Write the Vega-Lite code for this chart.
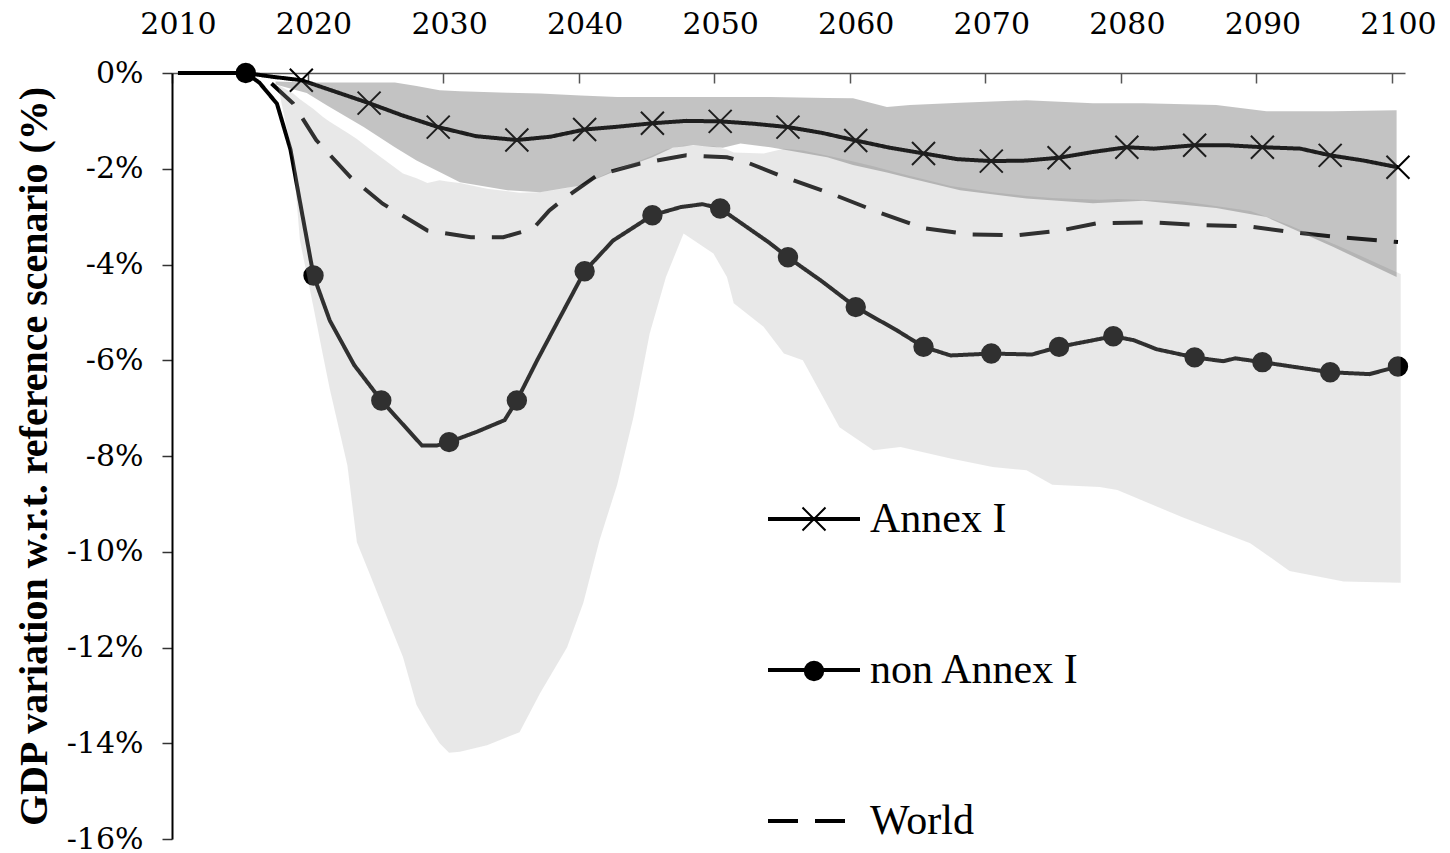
{
  "$schema": "https://vega.github.io/schema/vega-lite/v6.json",
  "width": 1233,
  "height": 766,
  "autosize": {"type": "none"},
  "padding": {"left": 172, "top": 73, "right": 45, "bottom": 14},
  "background": "white",
  "config": {
    "view": {"stroke": null},
    "axis": {"labelFont": "DejaVu Serif", "labelFontSize": 30, "labelColor": "black", "grid": false},
    "legend": {"labelFont": "Liberation Serif", "labelFontSize": 42, "labelColor": "black", "labelLimit": 500}
  },
  "datasets": {
    "lines": [
      {"s": "Annex I", "yr": 2010, "v": 0, "m": 0},
      {"s": "Annex I", "yr": 2015, "v": 0, "m": 0},
      {"s": "Annex I", "yr": 2017, "v": -0.08, "m": 0},
      {"s": "Annex I", "yr": 2019.1, "v": -0.15, "m": 1},
      {"s": "Annex I", "yr": 2021.5, "v": -0.38, "m": 0},
      {"s": "Annex I", "yr": 2024.1, "v": -0.63, "m": 1},
      {"s": "Annex I", "yr": 2026.5, "v": -0.88, "m": 0},
      {"s": "Annex I", "yr": 2029.2, "v": -1.13, "m": 1},
      {"s": "Annex I", "yr": 2032, "v": -1.32, "m": 0},
      {"s": "Annex I", "yr": 2035, "v": -1.4, "m": 1},
      {"s": "Annex I", "yr": 2037.5, "v": -1.33, "m": 0},
      {"s": "Annex I", "yr": 2040, "v": -1.18, "m": 1},
      {"s": "Annex I", "yr": 2042.5, "v": -1.12, "m": 0},
      {"s": "Annex I", "yr": 2045, "v": -1.05, "m": 1},
      {"s": "Annex I", "yr": 2047.5, "v": -1.0, "m": 0},
      {"s": "Annex I", "yr": 2050, "v": -1.01, "m": 1},
      {"s": "Annex I", "yr": 2052.5, "v": -1.06, "m": 0},
      {"s": "Annex I", "yr": 2055, "v": -1.13, "m": 1},
      {"s": "Annex I", "yr": 2057.5, "v": -1.25, "m": 0},
      {"s": "Annex I", "yr": 2060, "v": -1.41, "m": 1},
      {"s": "Annex I", "yr": 2062.5, "v": -1.56, "m": 0},
      {"s": "Annex I", "yr": 2065, "v": -1.68, "m": 1},
      {"s": "Annex I", "yr": 2067.5, "v": -1.8, "m": 0},
      {"s": "Annex I", "yr": 2070, "v": -1.84, "m": 1},
      {"s": "Annex I", "yr": 2072.5, "v": -1.83, "m": 0},
      {"s": "Annex I", "yr": 2075, "v": -1.77, "m": 1},
      {"s": "Annex I", "yr": 2077.5, "v": -1.65, "m": 0},
      {"s": "Annex I", "yr": 2080, "v": -1.55, "m": 1},
      {"s": "Annex I", "yr": 2082, "v": -1.58, "m": 0},
      {"s": "Annex I", "yr": 2085, "v": -1.51, "m": 1},
      {"s": "Annex I", "yr": 2087.5, "v": -1.51, "m": 0},
      {"s": "Annex I", "yr": 2090, "v": -1.55, "m": 1},
      {"s": "Annex I", "yr": 2092.8, "v": -1.58, "m": 0},
      {"s": "Annex I", "yr": 2095, "v": -1.72, "m": 1},
      {"s": "Annex I", "yr": 2097.5, "v": -1.83, "m": 0},
      {"s": "Annex I", "yr": 2100, "v": -1.97, "m": 1},
      {"s": "non Annex I", "yr": 2010, "v": 0, "m": 0},
      {"s": "non Annex I", "yr": 2015, "v": 0, "m": 1},
      {"s": "non Annex I", "yr": 2016, "v": -0.2, "m": 0},
      {"s": "non Annex I", "yr": 2017.3, "v": -0.64, "m": 0},
      {"s": "non Annex I", "yr": 2018.3, "v": -1.6, "m": 0},
      {"s": "non Annex I", "yr": 2019.2, "v": -3.0, "m": 0},
      {"s": "non Annex I", "yr": 2020, "v": -4.23, "m": 1},
      {"s": "non Annex I", "yr": 2021.2, "v": -5.17, "m": 0},
      {"s": "non Annex I", "yr": 2023, "v": -6.1, "m": 0},
      {"s": "non Annex I", "yr": 2025, "v": -6.84, "m": 1},
      {"s": "non Annex I", "yr": 2028, "v": -7.78, "m": 0},
      {"s": "non Annex I", "yr": 2029.1, "v": -7.78, "m": 0},
      {"s": "non Annex I", "yr": 2030, "v": -7.71, "m": 1},
      {"s": "non Annex I", "yr": 2032, "v": -7.5, "m": 0},
      {"s": "non Annex I", "yr": 2034.1, "v": -7.25, "m": 0},
      {"s": "non Annex I", "yr": 2035, "v": -6.84, "m": 1},
      {"s": "non Annex I", "yr": 2036.5, "v": -6.0, "m": 0},
      {"s": "non Annex I", "yr": 2038, "v": -5.2, "m": 0},
      {"s": "non Annex I", "yr": 2040, "v": -4.14, "m": 1},
      {"s": "non Annex I", "yr": 2042.1, "v": -3.5, "m": 0},
      {"s": "non Annex I", "yr": 2045, "v": -2.97, "m": 1},
      {"s": "non Annex I", "yr": 2047.1, "v": -2.8, "m": 0},
      {"s": "non Annex I", "yr": 2048.7, "v": -2.74, "m": 0},
      {"s": "non Annex I", "yr": 2050, "v": -2.83, "m": 1},
      {"s": "non Annex I", "yr": 2053.6, "v": -3.54, "m": 0},
      {"s": "non Annex I", "yr": 2055, "v": -3.85, "m": 1},
      {"s": "non Annex I", "yr": 2057.5, "v": -4.35, "m": 0},
      {"s": "non Annex I", "yr": 2060, "v": -4.89, "m": 1},
      {"s": "non Annex I", "yr": 2063, "v": -5.37, "m": 0},
      {"s": "non Annex I", "yr": 2065, "v": -5.72, "m": 1},
      {"s": "non Annex I", "yr": 2067, "v": -5.9, "m": 0},
      {"s": "non Annex I", "yr": 2070, "v": -5.86, "m": 1},
      {"s": "non Annex I", "yr": 2073, "v": -5.88, "m": 0},
      {"s": "non Annex I", "yr": 2075, "v": -5.72, "m": 1},
      {"s": "non Annex I", "yr": 2079, "v": -5.5, "m": 1},
      {"s": "non Annex I", "yr": 2080.5, "v": -5.58, "m": 0},
      {"s": "non Annex I", "yr": 2082.2, "v": -5.77, "m": 0},
      {"s": "non Annex I", "yr": 2085, "v": -5.94, "m": 1},
      {"s": "non Annex I", "yr": 2087.1, "v": -6.02, "m": 0},
      {"s": "non Annex I", "yr": 2088, "v": -5.96, "m": 0},
      {"s": "non Annex I", "yr": 2090, "v": -6.04, "m": 1},
      {"s": "non Annex I", "yr": 2095, "v": -6.25, "m": 1},
      {"s": "non Annex I", "yr": 2097.9, "v": -6.29, "m": 0},
      {"s": "non Annex I", "yr": 2100, "v": -6.13, "m": 1},
      {"s": "World", "yr": 2016.9, "v": -0.22, "m": 0},
      {"s": "World", "yr": 2018.5, "v": -0.64, "m": 0},
      {"s": "World", "yr": 2020.2, "v": -1.4, "m": 0},
      {"s": "World", "yr": 2022.7, "v": -2.17, "m": 0},
      {"s": "World", "yr": 2025.1, "v": -2.73, "m": 0},
      {"s": "World", "yr": 2028.4, "v": -3.29, "m": 0},
      {"s": "World", "yr": 2031.6, "v": -3.43, "m": 0},
      {"s": "World", "yr": 2034, "v": -3.43, "m": 0},
      {"s": "World", "yr": 2036.2, "v": -3.25, "m": 0},
      {"s": "World", "yr": 2037.4, "v": -2.87, "m": 0},
      {"s": "World", "yr": 2038.6, "v": -2.6, "m": 0},
      {"s": "World", "yr": 2040.9, "v": -2.14, "m": 0},
      {"s": "World", "yr": 2044.1, "v": -1.89, "m": 0},
      {"s": "World", "yr": 2047.5, "v": -1.72, "m": 0},
      {"s": "World", "yr": 2050.5, "v": -1.76, "m": 0},
      {"s": "World", "yr": 2052, "v": -1.87, "m": 0},
      {"s": "World", "yr": 2054.4, "v": -2.14, "m": 0},
      {"s": "World", "yr": 2058.1, "v": -2.51, "m": 0},
      {"s": "World", "yr": 2061.6, "v": -2.9, "m": 0},
      {"s": "World", "yr": 2065, "v": -3.24, "m": 0},
      {"s": "World", "yr": 2068.4, "v": -3.37, "m": 0},
      {"s": "World", "yr": 2071.9, "v": -3.39, "m": 0},
      {"s": "World", "yr": 2075.1, "v": -3.29, "m": 0},
      {"s": "World", "yr": 2077.8, "v": -3.14, "m": 0},
      {"s": "World", "yr": 2082, "v": -3.12, "m": 0},
      {"s": "World", "yr": 2085.4, "v": -3.18, "m": 0},
      {"s": "World", "yr": 2088.9, "v": -3.2, "m": 0},
      {"s": "World", "yr": 2092.3, "v": -3.33, "m": 0},
      {"s": "World", "yr": 2095.7, "v": -3.43, "m": 0},
      {"s": "World", "yr": 2100, "v": -3.53, "m": 0}
    ],
    "bands": [
      {"b": "A", "yr": 2017.2, "hi": -0.18, "lo": -0.24},
      {"b": "A", "yr": 2019.5, "hi": -0.2, "lo": -0.42},
      {"b": "A", "yr": 2021, "hi": -0.2, "lo": -0.68},
      {"b": "A", "yr": 2023.7, "hi": -0.2, "lo": -1.13},
      {"b": "A", "yr": 2026, "hi": -0.2, "lo": -1.55},
      {"b": "A", "yr": 2027.6, "hi": -0.27, "lo": -1.83},
      {"b": "A", "yr": 2029.3, "hi": -0.36, "lo": -2.07},
      {"b": "A", "yr": 2030.8, "hi": -0.38, "lo": -2.28},
      {"b": "A", "yr": 2034.3, "hi": -0.41, "lo": -2.45},
      {"b": "A", "yr": 2036.7, "hi": -0.43, "lo": -2.49},
      {"b": "A", "yr": 2039.7, "hi": -0.47, "lo": -2.35},
      {"b": "A", "yr": 2042.4, "hi": -0.5, "lo": -2.03},
      {"b": "A", "yr": 2045, "hi": -0.5, "lo": -1.76},
      {"b": "A", "yr": 2046.5, "hi": -0.5, "lo": -1.56},
      {"b": "A", "yr": 2048, "hi": -0.5, "lo": -1.51},
      {"b": "A", "yr": 2050.2, "hi": -0.5, "lo": -1.56},
      {"b": "A", "yr": 2051.5, "hi": -0.5, "lo": -1.47},
      {"b": "A", "yr": 2053.7, "hi": -0.5, "lo": -1.55},
      {"b": "A", "yr": 2057.9, "hi": -0.52, "lo": -1.76},
      {"b": "A", "yr": 2059.8, "hi": -0.53, "lo": -1.92},
      {"b": "A", "yr": 2062.3, "hi": -0.71, "lo": -2.08},
      {"b": "A", "yr": 2064, "hi": -0.67, "lo": -2.2},
      {"b": "A", "yr": 2067.7, "hi": -0.62, "lo": -2.45},
      {"b": "A", "yr": 2072.6, "hi": -0.57, "lo": -2.62},
      {"b": "A", "yr": 2077.5, "hi": -0.63, "lo": -2.72},
      {"b": "A", "yr": 2081.2, "hi": -0.63, "lo": -2.67},
      {"b": "A", "yr": 2086.6, "hi": -0.67, "lo": -2.82},
      {"b": "A", "yr": 2090.3, "hi": -0.8, "lo": -3.01},
      {"b": "A", "yr": 2095.2, "hi": -0.8, "lo": -3.63},
      {"b": "A", "yr": 2099.9, "hi": -0.78, "lo": -4.26},
      {"b": "N", "yr": 2017.4, "hi": -0.25, "lo": -0.3},
      {"b": "N", "yr": 2018.5, "hi": -0.43, "lo": -1.8},
      {"b": "N", "yr": 2019, "hi": -0.55, "lo": -3.5},
      {"b": "N", "yr": 2020, "hi": -0.75, "lo": -4.9},
      {"b": "N", "yr": 2020.7, "hi": -0.92, "lo": -5.9},
      {"b": "N", "yr": 2021.2, "hi": -1.02, "lo": -6.6},
      {"b": "N", "yr": 2022.5, "hi": -1.25, "lo": -8.2},
      {"b": "N", "yr": 2023.2, "hi": -1.38, "lo": -9.8},
      {"b": "N", "yr": 2024.2, "hi": -1.6, "lo": -10.5},
      {"b": "N", "yr": 2025.6, "hi": -1.89, "lo": -11.5},
      {"b": "N", "yr": 2026.6, "hi": -2.1, "lo": -12.2},
      {"b": "N", "yr": 2027.6, "hi": -2.2, "lo": -13.2},
      {"b": "N", "yr": 2028.4, "hi": -2.3, "lo": -13.6},
      {"b": "N", "yr": 2029.3, "hi": -2.24, "lo": -14.0},
      {"b": "N", "yr": 2030, "hi": -2.27, "lo": -14.2},
      {"b": "N", "yr": 2030.8, "hi": -2.3, "lo": -14.18},
      {"b": "N", "yr": 2032.8, "hi": -2.42, "lo": -14.04},
      {"b": "N", "yr": 2035.2, "hi": -2.5, "lo": -13.77},
      {"b": "N", "yr": 2036.7, "hi": -2.49, "lo": -12.96},
      {"b": "N", "yr": 2038.7, "hi": -2.4, "lo": -12.0},
      {"b": "N", "yr": 2039.9, "hi": -2.33, "lo": -11.07},
      {"b": "N", "yr": 2041.1, "hi": -2.17, "lo": -9.76},
      {"b": "N", "yr": 2042.4, "hi": -2.0, "lo": -8.6},
      {"b": "N", "yr": 2043.6, "hi": -1.88, "lo": -7.19},
      {"b": "N", "yr": 2044.8, "hi": -1.75, "lo": -5.44},
      {"b": "N", "yr": 2046, "hi": -1.6, "lo": -4.26},
      {"b": "N", "yr": 2047.3, "hi": -1.52, "lo": -3.35},
      {"b": "N", "yr": 2049.5, "hi": -1.53, "lo": -3.77},
      {"b": "N", "yr": 2050.5, "hi": -1.6, "lo": -4.26},
      {"b": "N", "yr": 2051, "hi": -1.66, "lo": -4.81},
      {"b": "N", "yr": 2053.2, "hi": -1.68, "lo": -5.3},
      {"b": "N", "yr": 2054.7, "hi": -1.58, "lo": -5.86},
      {"b": "N", "yr": 2056.1, "hi": -1.62, "lo": -6.0},
      {"b": "N", "yr": 2058.8, "hi": -1.78, "lo": -7.4},
      {"b": "N", "yr": 2061.3, "hi": -1.95, "lo": -7.88},
      {"b": "N", "yr": 2063.3, "hi": -2.1, "lo": -7.81},
      {"b": "N", "yr": 2067, "hi": -2.36, "lo": -8.05},
      {"b": "N", "yr": 2070.1, "hi": -2.49, "lo": -8.23},
      {"b": "N", "yr": 2072.6, "hi": -2.57, "lo": -8.3},
      {"b": "N", "yr": 2074.5, "hi": -2.61, "lo": -8.6},
      {"b": "N", "yr": 2078, "hi": -2.65, "lo": -8.65},
      {"b": "N", "yr": 2079.3, "hi": -2.63, "lo": -8.71},
      {"b": "N", "yr": 2084.1, "hi": -2.68, "lo": -9.28},
      {"b": "N", "yr": 2089.1, "hi": -2.88, "lo": -9.82},
      {"b": "N", "yr": 2092, "hi": -3.18, "lo": -10.4},
      {"b": "N", "yr": 2096, "hi": -3.66, "lo": -10.62},
      {"b": "N", "yr": 2100.2, "hi": -4.2, "lo": -10.65}
    ]
  },
  "encoding": {
    "x": {
      "field": "yr", "type": "quantitative",
      "scale": {"domain": [2009.56, 2100.52], "nice": false, "zero": false},
      "axis": {
        "orient": "top", "title": null,
        "values": [2010, 2020, 2030, 2040, 2050, 2060, 2070, 2080, 2090, 2100],
        "format": "d", "labelOverlap": false,
        "tickSize": -10, "tickOffset": -6, "labelOffset": 6,
        "labelPadding": 50, "labelBaseline": "alphabetic",
        "domainColor": "#555555", "domainWidth": 1.5, "tickColor": "#555555", "tickWidth": 1.5
      }
    }
  },
  "layer": [
    {
      "data": {"name": "lines"},
      "mark": {"type": "line", "strokeWidth": 4, "color": "black"},
      "encoding": {
        "y": {
          "field": "v", "type": "quantitative",
          "scale": {"domain": [-16, 0], "nice": false, "zero": false},
          "axis": {
            "values": [-16, -14, -12, -10, -8, -6, -4, -2, 0],
            "labelExpr": "datum.value + '%'",
            "title": "GDP variation w.r.t. reference scenario (%)",
            "titleFont": "Liberation Serif", "titleFontSize": 40, "titleFontWeight": "bold", "titleColor": "black",
            "titlePadding": 12, "tickSize": 10, "labelPadding": 19,
            "domainColor": "black", "domainWidth": 2, "tickColor": "#333333", "tickWidth": 1.5
          }
        },
        "strokeDash": {
          "field": "s", "type": "nominal",
          "scale": {"domain": ["Annex I", "non Annex I", "World"], "range": [[1, 0], [1, 0], [30, 17]]},
          "legend": {
            "orient": "none", "legendX": 594, "legendY": 398, "title": null, "padding": 0,
            "symbolType": "M-1,0H1", "symbolSize": 8464, "symbolStrokeWidth": 4, "symbolStrokeColor": "black",
            "rowPadding": 82, "labelOffset": 8
          }
        }
      }
    },
    {
      "data": {"name": "lines"},
      "transform": [{"filter": "datum.m == 1"}],
      "mark": {"type": "point", "filled": true, "fill": "black", "stroke": "black", "strokeWidth": 2, "size": 8464, "opacity": 1},
      "encoding": {
        "y": {"field": "v", "type": "quantitative", "title": "GDP variation w.r.t. reference scenario (%)"},
        "shape": {
          "field": "s", "type": "nominal",
          "scale": {
            "domain": ["Annex I", "non Annex I"],
            "range": ["M-0.25,-0.25L0.25,0.25M-0.25,0.25L0.25,-0.25", "M-0.2,0A0.2,0.2,0,1,1,0.2,0A0.2,0.2,0,1,1,-0.2,0Z"]
          },
          "legend": {
            "orient": "none", "legendX": 595, "legendY": 399, "title": null, "padding": 0,
            "symbolSize": 8464, "symbolStrokeWidth": 2,
            "rowPadding": 84, "labelOffset": 8, "labelOpacity": 0
          }
        }
      }
    },
    {
      "data": {"name": "bands"},
      "transform": [{"filter": "datum.b == 'N'"}],
      "mark": {"type": "area", "color": "#acacac", "opacity": 0.28},
      "encoding": {
        "y": {"field": "hi", "type": "quantitative", "title": "GDP variation w.r.t. reference scenario (%)"},
        "y2": {"field": "lo"}
      }
    },
    {
      "data": {"name": "bands"},
      "transform": [{"filter": "datum.b == 'A'"}],
      "mark": {"type": "area", "color": "#555555", "opacity": 0.353},
      "encoding": {
        "y": {"field": "hi", "type": "quantitative", "title": "GDP variation w.r.t. reference scenario (%)"},
        "y2": {"field": "lo"}
      }
    }
  ]
}
